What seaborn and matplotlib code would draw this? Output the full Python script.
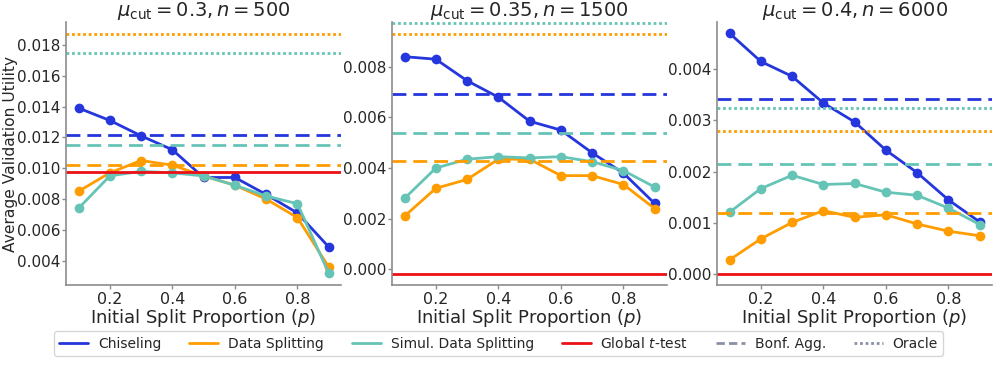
import numpy as np
import matplotlib
matplotlib.use("Agg")
import matplotlib.pyplot as plt
import seaborn as sns
from matplotlib.lines import Line2D

sns.set_style("ticks")
plt.rcParams['font.family'] = ['DejaVu Sans']
plt.rcParams['mathtext.fontset'] = 'dejavusans'

# split proportions
p = [0.1, 0.2, 0.3, 0.4, 0.5, 0.6, 0.7, 0.8, 0.9]

titles = [r"$\mu_{\mathrm{cut}} = 0.3, n = 500$",
          r"$\mu_{\mathrm{cut}} = 0.35, n = 1500$",
          r"$\mu_{\mathrm{cut}} = 0.4, n = 6000$"]

chisel = [
    [0.0139, 0.0131, 0.0121, 0.0112, 0.0094, 0.0094, 0.0083, 0.0071, 0.0049],
    [0.0084, 0.0083, 0.00745, 0.0068, 0.00585, 0.0055, 0.0046, 0.0038, 0.0026],
    [0.0047, 0.00415, 0.00386, 0.00334, 0.00297, 0.00242, 0.00198, 0.00145, 0.00102],
]
data_split = [
    [0.0085, 0.0097, 0.0105, 0.0102, 0.0095, 0.0089, 0.0080, 0.0068, 0.0036],
    [0.0021, 0.0032, 0.00355, 0.00435, 0.00435, 0.0037, 0.0037, 0.00335, 0.0024],
    [0.00028, 0.00069, 0.00101, 0.00124, 0.00111, 0.00116, 0.00098, 0.00084, 0.00075],
]
simul_split = [
    [0.0074, 0.0095, 0.0098, 0.0097, 0.0095, 0.0089, 0.0082, 0.0077, 0.0032],
    [0.0028, 0.0040, 0.00435, 0.00445, 0.0044, 0.00445, 0.00425, 0.0039, 0.00325],
    [0.00121, 0.00167, 0.00193, 0.00175, 0.00177, 0.00160, 0.00154, 0.00129, 0.00097],
]

# horizontal reference lines
global_t = [0.00975, -0.00019, 0.0]
bonf_chisel = [0.01213, 0.00692, 0.00341]
bonf_simul = [0.01152, 0.00537, 0.00215]
bonf_split = [0.01022, 0.00427, 0.00119]
oracle_split = [0.0187, 0.0093, 0.0028]
oracle_simul = [0.01745, 0.00974, 0.00325]

ylims = [(0.00243, 0.01948), (-0.00062, 0.00977), (-0.00021, 0.00492)]
yticks = [np.arange(0.004, 0.0181, 0.002), np.arange(0.0, 0.0081, 0.002), np.arange(0.0, 0.00401, 0.001)]

c_chisel = '#2536dc'
c_split = '#ff9c00'
c_simul = '#66c4b6'
c_global = '#ec1016'
c_gray = '#8a8fa6'

fig = plt.figure(figsize=(9.97, 3.66), dpi=100)
lefts = [0.0662, 0.3932, 0.7192]

for i in range(3):
    ax = fig.add_axes([lefts[i], 0.2213, 0.276, 0.7186])
    sns.lineplot(x=p, y=chisel[i], ax=ax, color=c_chisel, marker='o', markersize=7,
                 markeredgewidth=0, linewidth=2)
    sns.lineplot(x=p, y=data_split[i], ax=ax, color=c_split, marker='o', markersize=7,
                 markeredgewidth=0, linewidth=2)
    sns.lineplot(x=p, y=simul_split[i], ax=ax, color=c_simul, marker='o', markersize=7,
                 markeredgewidth=0, linewidth=2)
    ax.axhline(global_t[i], color=c_global, linewidth=2)
    ax.axhline(bonf_chisel[i], color=c_chisel, linestyle=(0, (5, 2.5)), linewidth=2)
    ax.axhline(bonf_simul[i], color=c_simul, linestyle=(0, (5, 2.5)), linewidth=2)
    ax.axhline(bonf_split[i], color=c_split, linestyle=(0, (5, 2.5)), linewidth=2)
    ax.axhline(oracle_split[i], color=c_split, linestyle=(0, (1, 1)), linewidth=2)
    ax.axhline(oracle_simul[i], color=c_simul, linestyle=(0, (1, 1)), linewidth=2)

    ax.set_xlim(0.06, 0.94)
    ax.set_ylim(*ylims[i])
    ax.set_xticks([0.2, 0.4, 0.6, 0.8])
    ax.set_yticks(yticks[i])
    ax.set_yticklabels([f"{v:.3f}" for v in yticks[i]])
    ax.tick_params(labelsize=11, length=3, width=1, color='#8c8c8c', pad=1)
    ax.tick_params(axis='x', labelsize=11.5, pad=2)
    ax.set_title(titles[i], fontsize=14, pad=4)
    ax.set_xlabel("Initial Split Proportion ($p$)", fontsize=13, labelpad=0)
    if i == 0:
        ax.set_ylabel("Average Validation Utility", fontsize=11.2)
        ax.yaxis.set_label_coords(-0.1745, 0.5)
    for s in ['left', 'bottom']:
        ax.spines[s].set_color('#8c8c8c')
        ax.spines[s].set_linewidth(1.2)
    sns.despine(ax=ax)

handles = [
    Line2D([], [], color=c_chisel, linewidth=2),
    Line2D([], [], color=c_split, linewidth=2),
    Line2D([], [], color=c_simul, linewidth=2),
    Line2D([], [], color=c_global, linewidth=2),
    Line2D([], [], color=c_gray, linewidth=2, linestyle=(0, (3, 1.5))),
    Line2D([], [], color=c_gray, linewidth=2, linestyle=(0, (1, 1))),
]
labels = ["Chiseling", "Data Splitting", "Simul. Data Splitting", "Global $t$-test",
          "Bonf. Agg.", "Oracle"]
fig.legend(handles, labels, loc='lower center', bbox_to_anchor=(0.5, 0.008), ncol=6,
           fontsize=10, frameon=True, columnspacing=2.0, handlelength=2.1,
           handletextpad=0.7, borderpad=0.35)

fig.savefig("out.png", dpi=100)
